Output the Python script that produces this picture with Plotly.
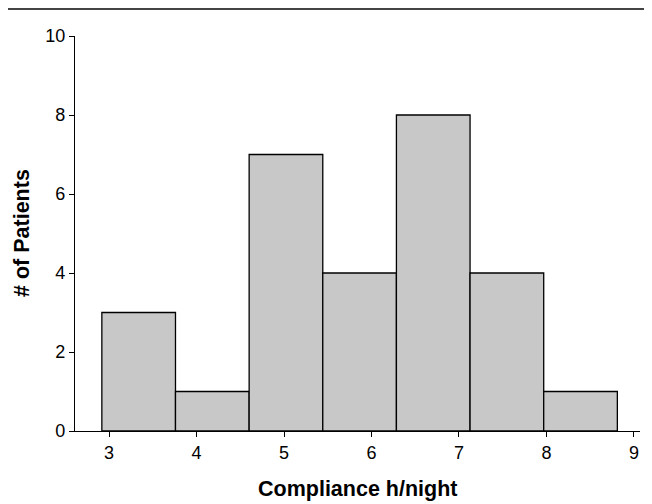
import plotly.graph_objects as go

# Histogram data
bin_edges = [2.917, 3.759, 4.601, 5.443, 6.285, 7.127, 7.969, 8.811]
counts = [3, 1, 7, 4, 8, 4, 1]
x_ticks = [3, 4, 5, 6, 7, 8, 9]
y_ticks = [0, 2, 4, 6, 8, 10]
x_title = "Compliance h/night"
y_title = "# of Patients"

centers = [(a + b) / 2 for a, b in zip(bin_edges[:-1], bin_edges[1:])]
widths = [b - a for a, b in zip(bin_edges[:-1], bin_edges[1:])]

FONT = "Liberation Sans, Arial, sans-serif"

# page body has an 8px margin, so the figure is 8px smaller than the window
W, H = 644, 496
L, R, T, B = 67, 12, 28, 73
PW, PH = W - L - R, H - T - B

fig = go.Figure(
    go.Bar(
        x=centers,
        y=counts,
        width=widths,
        marker=dict(color="#c8c8c8", line=dict(color="#000000", width=1.3)),
        hoverinfo="skip",
    )
)

fig.update_layout(
    width=W,
    height=H,
    margin=dict(l=L, r=R, t=T, b=B, autoexpand=False),
    paper_bgcolor="white",
    plot_bgcolor="white",
    showlegend=False,
    font=dict(family=FONT, size=18, color="#000"),
    shapes=[
        dict(
            type="line", xref="paper", yref="paper",
            x0=-L / PW, x1=1 + R / PW,
            y0=1 + (T - 1) / PH, y1=1 + (T - 1) / PH,
            line=dict(color="#444", width=2),
        )
    ],
    annotations=[
        dict(
            text=f"<b>{x_title}</b>", xref="paper", yref="paper",
            x=0.5, y=-(58 / PH), xanchor="center", yanchor="middle",
            showarrow=False, font=dict(family=FONT, size=21.5),
        ),
        dict(
            text=f"<b>{y_title}</b>", xref="paper", yref="paper",
            x=-(53.5 / PW), y=0.5, xanchor="center", yanchor="middle",
            textangle=-90, showarrow=False, font=dict(family=FONT, size=21.5),
        ),
    ],
)

fig.update_xaxes(
    range=[2.61, 9.07],
    tickvals=x_ticks,
    ticktext=[str(v) for v in x_ticks],
    ticks="outside", ticklen=5, tickwidth=1.2, tickcolor="#000",
    showline=True, linecolor="#000", linewidth=1.3,
    showgrid=False, zeroline=False, automargin=False,
    tickfont=dict(family=FONT, size=18),
)
fig.update_yaxes(
    range=[0, 10],
    tickvals=y_ticks,
    ticktext=[str(v) for v in y_ticks],
    ticks="outside", ticklen=5, tickwidth=1.2, tickcolor="#000",
    showline=True, linecolor="#000", linewidth=1.3,
    showgrid=False, zeroline=False, automargin=False,
    tickfont=dict(family=FONT, size=18),
)

fig.write_html("out.html")
